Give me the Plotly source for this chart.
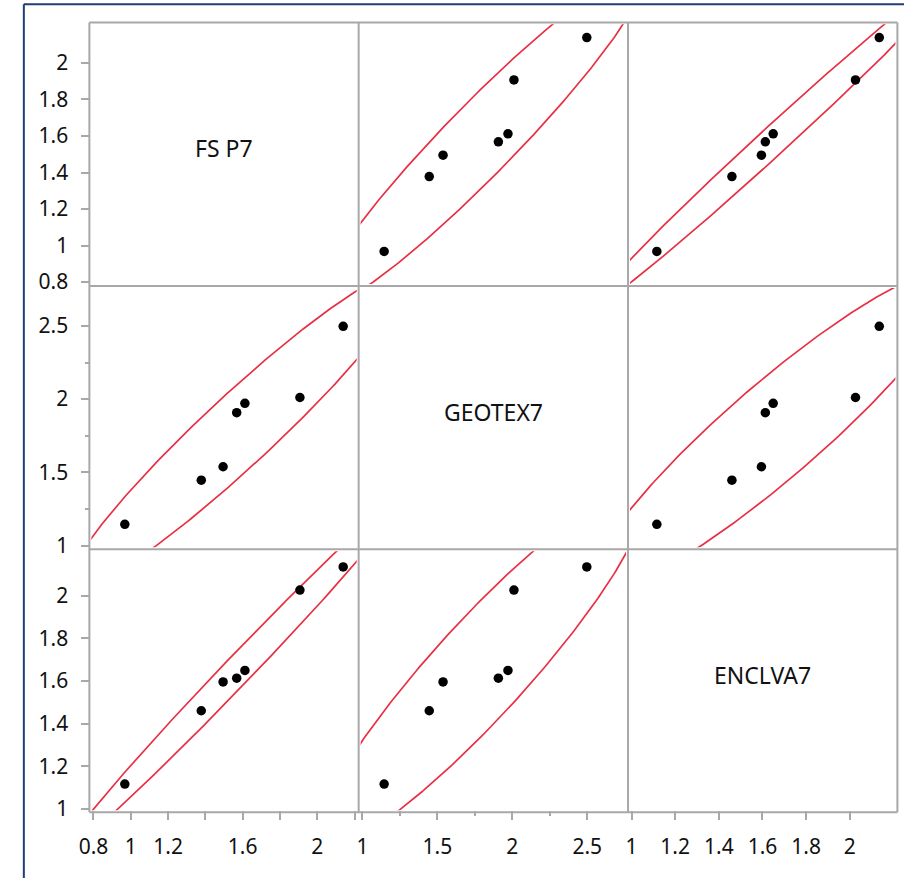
import numpy as np
import plotly.graph_objects as go

# ---------------- data ----------------
variables = ["FS P7", "GEOTEX7", "ENCLVA7"]
fs_p7 = [0.968, 1.378, 1.495, 1.568, 1.612, 1.907, 2.139]
geotex7 = [1.145, 1.446, 1.538, 1.907, 1.971, 2.011, 2.497]
enclva7 = [1.116, 1.460, 1.595, 1.613, 1.649, 2.026, 2.135]

# tick values / labels per variable
fs_ticks_x = [0.8, 1.0, 1.2, 1.4, 1.6, 1.8, 2.0, 2.2]
fs_text_x = ["0.8", "1", "1.2", "", "1.6", "", "2", ""]
fs_ticks_y = [0.8, 1.0, 1.2, 1.4, 1.6, 1.8, 2.0]
fs_text_y = ["0.8", "1", "1.2", "1.4", "1.6", "1.8", "2"]
geo_ticks = [1.0, 1.5, 2.0, 2.5]
geo_text = ["1", "1.5", "2", "2.5"]
geo_minor = [1.25, 1.75, 2.25]
enc_ticks = [1.0, 1.2, 1.4, 1.6, 1.8, 2.0]
enc_text = ["1", "1.2", "1.4", "1.6", "1.8", "2"]

data = [fs_p7, geotex7, enclva7]

# ---------------- layout geometry ----------------
W, H = 904, 890
col_px = [77.5, 350.7, 624.0, 897.3]     # panel frame edges (px)
row_px = [22.7, 290.0, 556.7, 823.3]
frame_ranges = [[0.778, 2.222], [0.975, 2.772], [0.984, 2.218]]  # value span over the frame
INSET = 2.0                               # data area sits a little inside the frame

FONT = "Noto Sans"
GRAY = "#a8a8a8"
RED = "rgb(232,48,68)"
TXT = "#111111"
NAVY = "#1f3d7a"
CHI2_95 = 5.991464547

x_tick_cfg = [
    dict(tickvals=fs_ticks_x, ticktext=fs_text_x, minor=None),
    dict(tickvals=geo_ticks, ticktext=geo_text, minor=geo_minor),
    dict(tickvals=enc_ticks, ticktext=enc_text, minor=None),
]
y_tick_cfg = [
    dict(tickvals=fs_ticks_y, ticktext=fs_text_y, minor=None),
    dict(tickvals=geo_ticks, ticktext=geo_text, minor=geo_minor),
    dict(tickvals=enc_ticks, ticktext=enc_text, minor=None),
]


def inner_range(rng, p0, p1):
    a, b = rng
    s = (b - a) / (p1 - p0)
    return [a + INSET * s, b - INSET * s]


def ellipse(x, y, n=400):
    X = np.array([x, y])
    m = X.mean(axis=1)
    L = np.linalg.cholesky(np.cov(X))
    t = np.linspace(0, 2 * np.pi, n)
    pts = m[:, None] + L @ (np.vstack([np.cos(t), np.sin(t)]) * np.sqrt(CHI2_95))
    return pts[0], pts[1]


fig = go.Figure()
layout = dict(
    width=W, height=H,
    margin=dict(l=0, r=0, t=0, b=0),
    paper_bgcolor="white", plot_bgcolor="white",
    showlegend=False,
    font=dict(family=FONT, size=21, color=TXT),
)
annotations = []

for r in range(3):
    for c in range(3):
        k = r * 3 + c + 1
        xa = "xaxis" if k == 1 else f"xaxis{k}"
        ya = "yaxis" if k == 1 else f"yaxis{k}"
        xref = "x" if k == 1 else f"x{k}"
        yref = "y" if k == 1 else f"y{k}"
        xcfg, ycfg = x_tick_cfg[c], y_tick_cfg[r]
        xr = inner_range(frame_ranges[c], col_px[c], col_px[c + 1])
        yr = inner_range(frame_ranges[r], row_px[r], row_px[r + 1])
        xd = dict(
            domain=[(col_px[c] + INSET) / W, (col_px[c + 1] - INSET) / W],
            range=xr, anchor=yref,
            showgrid=False, zeroline=False, showline=False, fixedrange=True,
        )
        if r == 2:
            xd.update(
                tickmode="array", tickvals=xcfg["tickvals"], ticktext=xcfg["ticktext"],
                ticks="outside", ticklen=9, tickwidth=2, tickcolor=GRAY,
                tickfont=dict(family=FONT, size=21, color=TXT),
                ticklabelstandoff=9,
            )
            if xcfg["minor"]:
                xd["minor"] = dict(tickmode="array", tickvals=xcfg["minor"], ticks="outside",
                                   ticklen=5, tickwidth=2, tickcolor=GRAY)
        else:
            xd.update(showticklabels=False, ticks="")
        yd = dict(
            domain=[1 - (row_px[r + 1] - INSET) / H, 1 - (row_px[r] + INSET) / H],
            range=yr, anchor=xref,
            showgrid=False, zeroline=False, showline=False, fixedrange=True,
        )
        if c == 0:
            yd.update(
                tickmode="array", tickvals=ycfg["tickvals"], ticktext=ycfg["ticktext"],
                ticks="outside", ticklen=9, tickwidth=2, tickcolor=GRAY,
                tickfont=dict(family=FONT, size=21, color=TXT),
                ticklabelstandoff=9,
            )
            if ycfg["minor"]:
                yd["minor"] = dict(tickmode="array", tickvals=ycfg["minor"], ticks="outside",
                                   ticklen=5, tickwidth=2, tickcolor=GRAY)
        else:
            yd.update(showticklabels=False, ticks="")
        layout[xa] = xd
        layout[ya] = yd

        if r == c:
            annotations.append(dict(
                x=0.5 * sum(xr), y=0.5 * sum(yr),
                xref=xref, yref=yref, text=variables[r], showarrow=False,
                yshift=6, font=dict(family=FONT, size=23, color=TXT),
            ))
        else:
            xs, ys = data[c], data[r]
            ex, ey = ellipse(xs, ys)
            fig.add_trace(go.Scatter(x=ex, y=ey, mode="lines", xaxis=xref, yaxis=yref,
                                     line=dict(color=RED, width=1.7), hoverinfo="skip"))
            fig.add_trace(go.Scatter(x=xs, y=ys, mode="markers", xaxis=xref, yaxis=yref,
                                     marker=dict(color="black", size=9.5), cliponaxis=False))

layout["annotations"] = annotations
shapes = []
for xp in col_px:
    shapes.append(dict(type="line", xref="paper", yref="paper", layer="above",
                       x0=xp / W, x1=xp / W, y0=1 - row_px[-1] / H, y1=1 - row_px[0] / H,
                       line=dict(color=GRAY, width=2)))
for yp in row_px:
    shapes.append(dict(type="line", xref="paper", yref="paper", layer="above",
                       x0=col_px[0] / W, x1=col_px[-1] / W, y0=1 - yp / H, y1=1 - yp / H,
                       line=dict(color=GRAY, width=2)))
shapes += [
    dict(type="line", xref="paper", yref="paper", x0=11 / W, x1=11 / W, y0=0, y1=1 - 4.3 / H,
         line=dict(color=NAVY, width=2)),
    dict(type="line", xref="paper", yref="paper", x0=11 / W, x1=1, y0=1 - 4.3 / H, y1=1 - 4.3 / H,
         line=dict(color=NAVY, width=2)),
]
layout["shapes"] = shapes
fig.update_layout(**layout)
fig.write_html("out.html", config={"displayModeBar": False},
               post_script="document.body.style.margin='0';")
